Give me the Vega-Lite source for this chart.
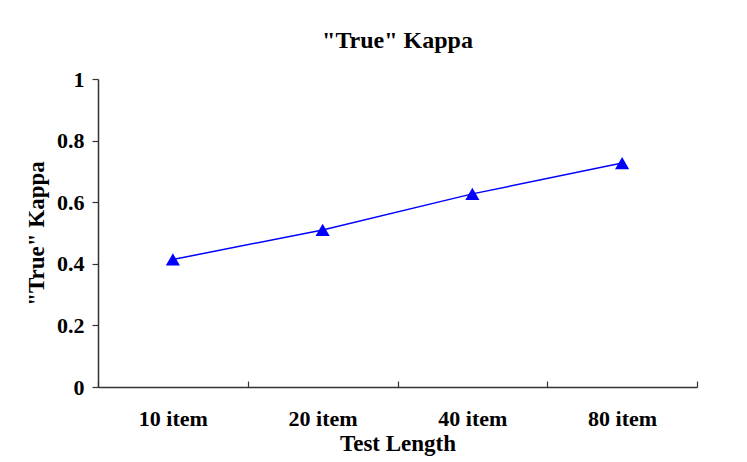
{
  "$schema": "https://vega.github.io/schema/vega-lite/v6.json",
  "width": 599,
  "height": 308,
  "autosize": {"type": "none"},
  "padding": {"left": 98, "top": 79, "right": 50, "bottom": 75},
  "background": "white",
  "title": {
    "text": "\"True\" Kappa",
    "font": "Liberation Serif",
    "fontSize": 24,
    "fontWeight": "bold",
    "color": "black",
    "anchor": "middle",
    "offset": 15
  },
  "data": {
    "values": [
      {"length": "10 item", "kappa": 0.414},
      {"length": "20 item", "kappa": 0.51},
      {"length": "40 item", "kappa": 0.627},
      {"length": "80 item", "kappa": 0.727}
    ]
  },
  "encoding": {
    "x": {
      "field": "length",
      "type": "nominal",
      "sort": null,
      "scale": {"paddingInner": 0, "paddingOuter": 0},
      "axis": {
        "title": "Test Length",
        "labelAngle": 0,
        "tickBand": "extent",
        "tickSize": -6,
        "labelPadding": 27,
        "titlePadding": 3,
        "domainColor": "#333333",
        "tickColor": "#333333"
      }
    },
    "y": {
      "field": "kappa",
      "type": "quantitative",
      "scale": {"domain": [0, 1], "nice": false},
      "axis": {
        "title": "\"True\" Kappa",
        "values": [0, 0.2, 0.4, 0.6, 0.8, 1],
        "format": ".1~f",
        "tickSize": 6,
        "labelPadding": 8,
        "titlePadding": 8,
        "grid": false,
        "domainColor": "#333333",
        "tickColor": "#333333"
      }
    }
  },
  "layer": [
    {"mark": {"type": "line", "color": "#0000ff", "strokeWidth": 1.5}},
    {"mark": {"type": "point", "shape": "triangle-up", "filled": true, "color": "#0000ff", "size": 200, "opacity": 1}}
  ],
  "config": {
    "view": {"stroke": null},
    "axis": {
      "labelFont": "Liberation Serif",
      "labelFontSize": 22,
      "labelFontWeight": "bold",
      "labelColor": "black",
      "titleFont": "Liberation Serif",
      "titleFontSize": 23,
      "titleFontWeight": "bold",
      "titleColor": "black",
      "domainWidth": 1.5,
      "tickWidth": 1.2
    }
  }
}
